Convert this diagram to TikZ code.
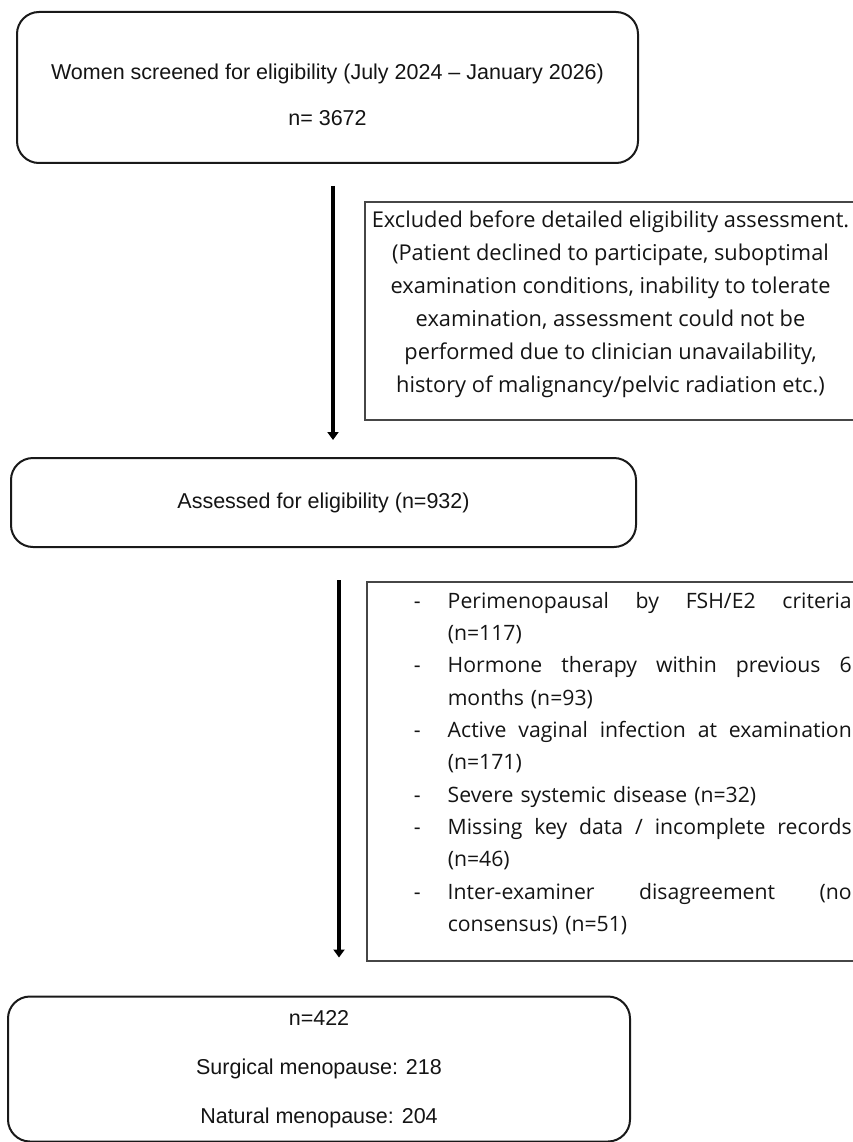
\documentclass[tikz,border=0pt]{standalone}
\usepackage{fontspec}
\setmainfont{Liberation Sans}
\newfontfamily\exclfont{Open Sans}
\usetikzlibrary{arrows.meta,positioning}
\definecolor{boxline}{RGB}{25,25,25}
\definecolor{exclline}{RGB}{70,70,70}
\definecolor{flowtext}{RGB}{20,20,20}
\tikzset{
  flowbox/.style={
    draw=boxline,
    line width=2pt,
    rounded corners=22pt,
    align=center,
    text=flowtext,
    font=\fontsize{21.5}{46}\selectfont
  },
  exclbox/.style={
    draw=exclline,
    line width=1.5pt,
    text=flowtext,
    font=\exclfont\fontsize{21.8}{33}\selectfont
  },
  flowarrow/.style={
    -{Triangle[width=11pt,length=8pt]},
    line width=4pt,
    draw=black
  }
}
\newcommand{\bul}{\makebox[34pt][l]{-}}
\newcommand{\jline}[1]{\makebox[404pt][l]{#1}}

\begin{document}
\begin{tikzpicture}[x=1pt,y=-1pt]
  \useasboundingbox (0,0) rectangle (853,1142);
  \clip (0,0) rectangle (853,1142);
  % boxes of the main flow
  \node[flowbox, minimum width=621pt, minimum height=151pt] (screen) at (327.5,87.5)
    {\rule{0pt}{30pt}Women screened for eligibility (July 2024 – January 2026)\\ n= 3672};
  \node[flowbox, minimum width=625pt, minimum height=89pt] (assess) at (323.5,502.5)
    {Assessed for eligibility (n=932)};
  \node[flowbox, font=\fontsize{21.5}{49}\selectfont, minimum width=622pt, minimum height=145pt] (final) at (319,1069)
    {n=422\\ Surgical menopause: 218\\ Natural menopause: 204};
  % exclusions
  \node[exclbox, align=center, minimum width=491pt, minimum height=218pt] (excl1) at (610.5,311)
    {Excluded before detailed eligibility assessment.\\
     (Patient declined to participate, suboptimal\\
     examination conditions, inability to tolerate\\
     examination, assessment could not be\\
     performed due to clinician unavailability,\\
     history of malignancy/pelvic radiation etc.)\rule[-18pt]{0pt}{1pt}};
  \node[exclbox, align=left, text width=438pt, inner xsep=47pt, minimum height=379pt,
        font=\exclfont\fontsize{21.2}{32.3}\selectfont, anchor=north west] (excl2) at (366,581)
    {\bul\jline{Perimenopausal\hfill by\hfill FSH/E2\hfill criteria}\\
     \hspace*{34pt}(n=117)\\
     \bul\jline{Hormone\hfill therapy\hfill within\hfill previous\hfill 6}\\
     \hspace*{34pt}months (n=93)\\
     \bul\jline{Active\hfill vaginal\hfill infection\hfill at\hfill examination}\\
     \hspace*{34pt}(n=171)\\
     \bul Severe systemic disease (n=32)\\
     \bul\jline{Missing\hfill key\hfill data\hfill /\hfill incomplete\hfill records}\\
     \hspace*{34pt}(n=46)\\
     \bul\jline{Inter-examiner\hfill disagreement\hfill (no}\\
     \hspace*{34pt}consensus) (n=51)\rule[-19pt]{0pt}{1pt}};
  % arrows
  \coordinate (colA) at (333,0);
  \coordinate (colB) at (339,0);
  \draw[flowarrow] ([yshift=-22pt]screen.south -| colA) -- ([yshift=17pt]assess.north -| colA);
  \draw[flowarrow] ([yshift=-32pt]assess.south -| colB) -- ([yshift=38pt]final.north -| colB);
\end{tikzpicture}
\end{document}
